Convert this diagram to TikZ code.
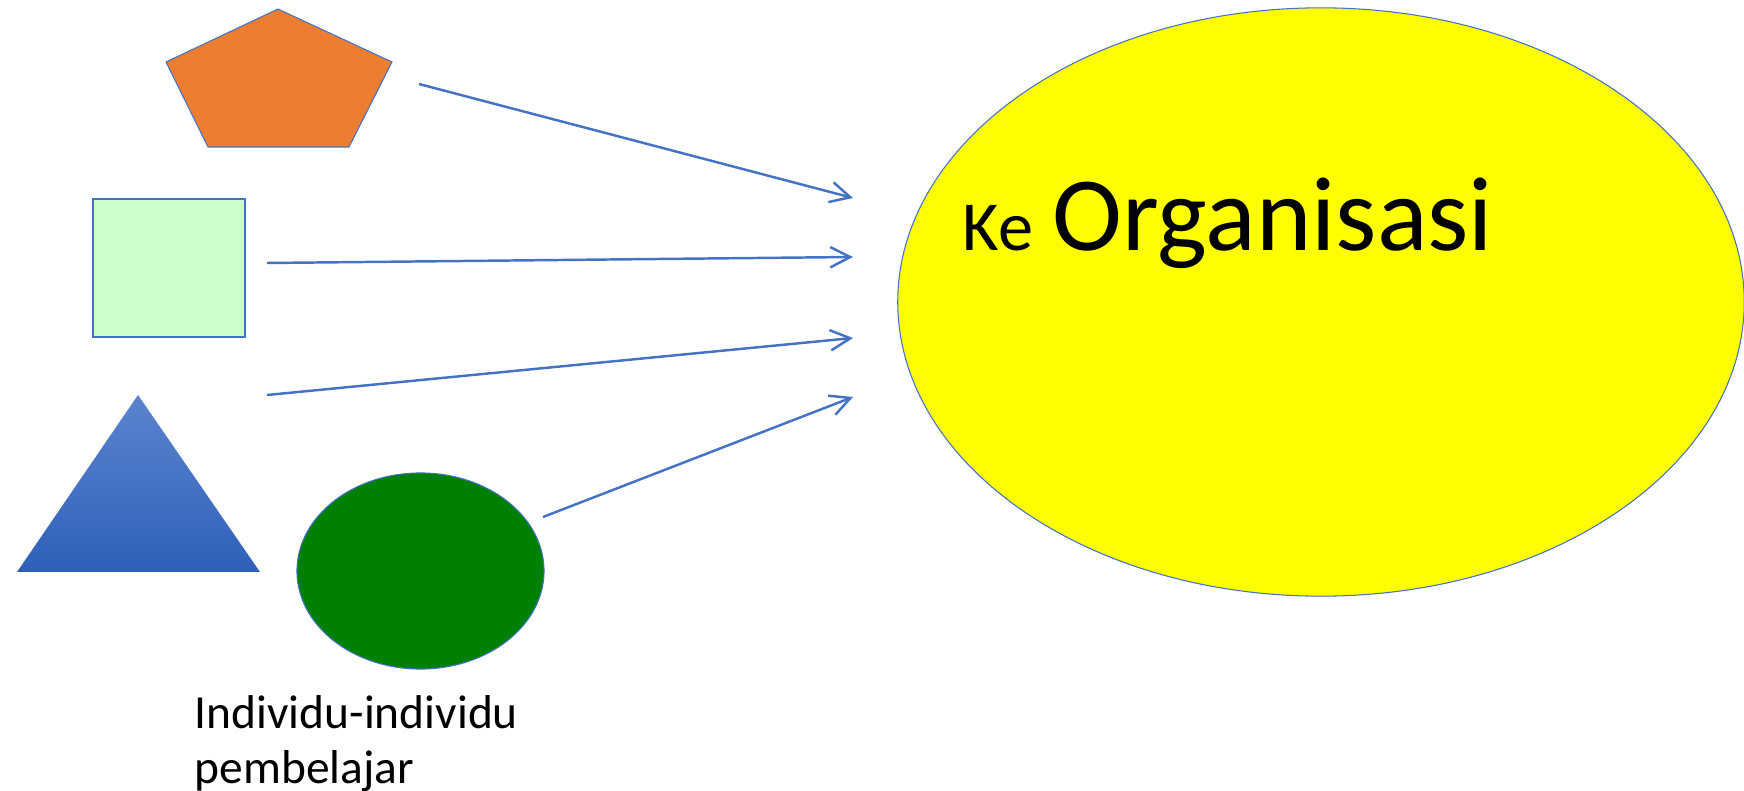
\documentclass[tikz,border=0pt]{standalone}
\usepackage{fontspec}
\setmainfont{Carlito}
\usetikzlibrary{arrows.meta,shapes.geometric}
\definecolor{edgeblue}{HTML}{4472C4}
\definecolor{pentorange}{HTML}{ED7D31}
\definecolor{sqgreen}{HTML}{CCFFCC}
\definecolor{ovgreen}{HTML}{008000}
\definecolor{ovyellow}{RGB}{255,255,0}
\definecolor{tritop}{HTML}{5B84CE}
\definecolor{tribot}{HTML}{2F60B9}
\tikzset{
  outline/.style={draw=edgeblue, line width=0.3pt},
  flow/.style={draw=edgeblue, line width=0.7pt, -{Straight Barb[length=5.7pt,width=5.8pt,line width=0.7pt]}},
}
\begin{document}
\begin{tikzpicture}[x=0.01cm,y=-0.01cm]
\useasboundingbox (0,0) rectangle (1744,791);
% shapes
\path[outline, fill=pentorange] (278,9) -- (392,62) -- (349,147) -- (208,147) -- (166,62) -- cycle;
\path[outline, fill=sqgreen] (93,199) rectangle (245,337);
\shade[top color=tritop, bottom color=tribot] (138,395) -- (260,572) -- (17,572) -- cycle;
\node[ellipse, outline, fill=ovgreen, minimum width=2.47cm, minimum height=1.96cm, inner sep=0pt] (green) at (420.5,571) {};
\node[ellipse, outline, fill=ovyellow, minimum width=8.46cm, minimum height=5.88cm, inner sep=0pt] (org) at (1321,302) {};
% texts
\node[anchor=base west, inner sep=0pt, font=\fontsize{20}{24}\selectfont] (ke) at (962,251) {Ke};
\node[anchor=base west, inner sep=0pt, font=\fontsize{30}{36}\selectfont] (orgtext) at (1052,251) {Organisasi};
\node[anchor=base west, inner sep=0pt, font=\fontsize{13.5}{15.9}\selectfont, align=left] (label) at (194,784) {Individu-individu\\pembelajar};
% arrow endpoints
\coordinate (s1) at (419,84);
\coordinate (s2) at (267,263);
\coordinate (s3) at (267,395);
\coordinate (s4) at (543,517);
\coordinate (e1) at (853,198);
\coordinate (e2) at (853,257);
\coordinate (e3) at (853,338);
\coordinate (e4) at (853,397);
\draw[flow] (s1) -- (e1);
\draw[flow] (s2) -- (e2);
\draw[flow] (s3) -- (e3);
\draw[flow] (s4) -- (e4);
\end{tikzpicture}
\end{document}
